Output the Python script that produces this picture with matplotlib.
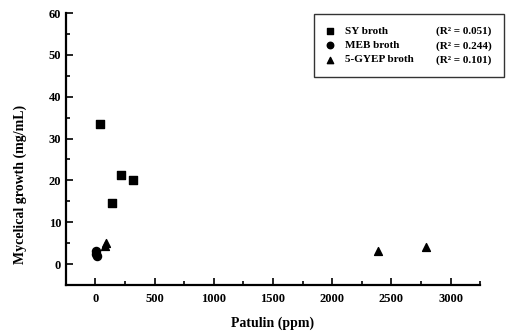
import matplotlib
matplotlib.use("Agg")
import matplotlib.pyplot as plt
from matplotlib.lines import Line2D
from matplotlib.ticker import MultipleLocator

plt.rcParams['font.family'] = ['Liberation Serif', 'DejaVu Serif']
plt.rcParams['font.weight'] = 'bold'

# SY broth
sy_x = [34, 143, 218, 320]
sy_y = [33.6, 14.6, 21.3, 20.1]
# MEB broth
meb_x = [5, 8, 10]
meb_y = [3.0, 2.4, 1.8]
# 5-GYEP broth
gyep_x = [78, 86, 2386, 2790]
gyep_y = [4.2, 5.0, 3.2, 4.1]

labels = ["SY broth", "MEB broth", "5-GYEP broth"]
r2 = ["0.051", "0.244", "0.101"]

fig = plt.figure(figsize=(5.07, 3.36), dpi=100)
ax = fig.add_axes([0.130, 0.152, 0.817, 0.809])

h1 = ax.scatter(sy_x, sy_y, marker='s', s=30, color='black')
h2 = ax.scatter(meb_x, meb_y, marker='o', s=34, color='black')
h3 = ax.scatter(gyep_x, gyep_y, marker='^', s=32, color='black')

ax.set_xlim(-250, 3250)
ax.set_ylim(-5, 60)
ax.xaxis.set_major_locator(MultipleLocator(500))
ax.xaxis.set_minor_locator(MultipleLocator(250))
ax.yaxis.set_major_locator(MultipleLocator(10))
ax.yaxis.set_minor_locator(MultipleLocator(5))
ax.tick_params(which='both', direction='in', width=1.2, labelsize=9)
ax.tick_params(which='major', length=5)
ax.tick_params(which='minor', length=3)
ax.tick_params(axis='x', pad=6)
ax.spines['top'].set_visible(False)
ax.spines['right'].set_visible(False)
ax.spines['left'].set_linewidth(1.6)
ax.spines['bottom'].set_linewidth(1.6)

ax.set_xlabel("Patulin (ppm)", fontsize=10, fontweight='bold', labelpad=8)
ax.set_ylabel("Mycelical growth (mg/mL)", fontsize=10, fontweight='bold')
ax.yaxis.set_label_coords(-0.095, 0.37)

blank = Line2D([], [], linestyle='none')
r2_labels = [f"(R\u00b2 = {r})" for r in r2]
leg = ax.legend([h1, h2, h3, blank, blank, blank], labels + r2_labels, ncol=2,
                loc='upper right', bbox_to_anchor=(504 / 507, 1 - 14 / 336),
                bbox_transform=fig.transFigure, borderaxespad=0,
                fontsize=8, frameon=True, fancybox=False, edgecolor='black',
                handlelength=0.6, handletextpad=1.1, columnspacing=0.3,
                borderpad=1.1, labelspacing=0.4, markerscale=0.8)
leg.get_frame().set_linewidth(1.0)

fig.savefig("out.png", dpi=100)
